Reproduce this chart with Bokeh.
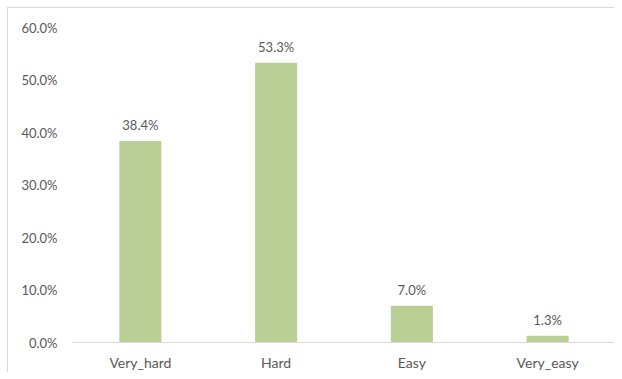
from bokeh.plotting import figure
from bokeh.models import ColumnDataSource, Range1d, NumeralTickFormatter, FixedTicker, LabelSet
from bokeh.core.properties import value
from bokeh.embed import file_html
from bokeh.resources import INLINE

categories = ["Very_hard", "Hard", "Easy", "Very_easy"]
shares = [0.384, 0.533, 0.070, 0.013]
y_ticks = [0.0, 0.1, 0.2, 0.3, 0.4, 0.5, 0.6]

labels = [f"{v * 100:.1f}%" for v in shares]
src = ColumnDataSource(dict(cat=categories, val=shares, lab=labels))

FONT = "Lato"
GRAY = "#595959"

p = figure(x_range=categories, y_range=Range1d(0, 0.6), width=607, height=365,
           output_backend="svg", toolbar_location=None,
           min_border_left=64, min_border_right=0, min_border_top=19, min_border_bottom=30)
p.styles = {"margin-left": "7px", "margin-top": "7px",
            "border-top": "1px solid #D9D9D9", "border-left": "1px solid #D9D9D9"}

p.vbar(x="cat", top="val", width=0.31, source=src, fill_color="#B9CF96", line_color=None)

p.add_layout(LabelSet(x="cat", y="val", text="lab", source=src, text_align="center",
                      text_baseline="alphabetic", y_offset=11, text_font=value(FONT),
                      text_font_size="13px", text_color=GRAY))

p.outline_line_color = None
p.xgrid.grid_line_color = None
p.ygrid.grid_line_color = None

p.yaxis.ticker = FixedTicker(ticks=y_ticks)
p.yaxis.formatter = NumeralTickFormatter(format="0.0%")
p.yaxis.axis_line_color = None
p.yaxis.major_tick_line_color = None
p.yaxis.major_tick_out = 0
p.yaxis.minor_tick_line_color = None
p.yaxis.major_label_standoff = 15

p.xaxis.axis_line_color = "#D9D9D9"
p.xaxis.axis_line_width = 1
p.xaxis.major_tick_line_color = None
p.xaxis.major_tick_out = 0
p.xaxis.minor_tick_line_color = None
p.xaxis.major_label_standoff = 11

for ax in (p.xaxis, p.yaxis):
    ax.major_label_text_font = FONT
    ax.major_label_text_color = GRAY
p.yaxis.major_label_text_font_size = "13px"
p.xaxis.major_label_text_font_size = "14px"

open("out.html", "w").write(file_html(p, INLINE))
